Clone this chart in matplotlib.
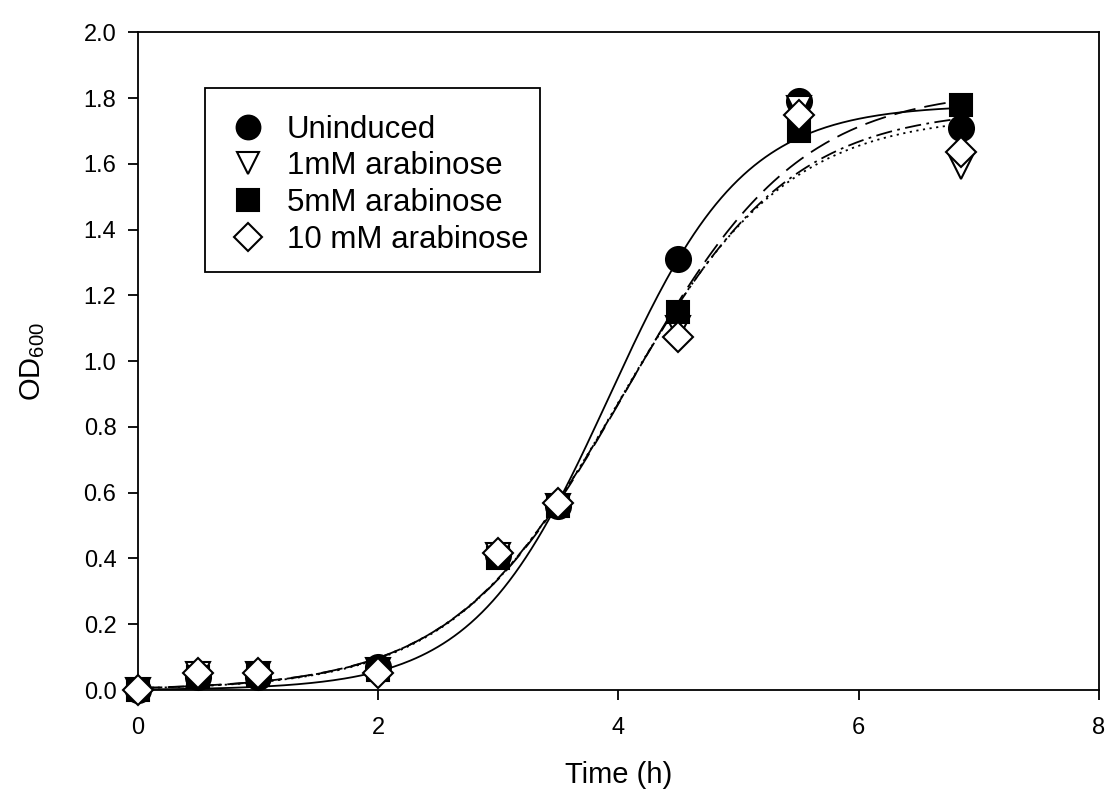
import numpy as np
import matplotlib
matplotlib.use("Agg")
import matplotlib.pyplot as plt
from matplotlib.patches import Rectangle

plt.rcParams['font.family'] = ['Liberation Sans', 'DejaVu Sans']
plt.rcParams['mathtext.fontset'] = 'custom'
plt.rcParams['mathtext.rm'] = 'Liberation Sans'

# Data
time_h = [0, 0.5, 1, 2, 3, 3.5, 4.5, 5.5, 6.85]
uninduced = [0.0, 0.04, 0.04, 0.07, 0.41, 0.56, 1.31, 1.79, 1.71]
ara_1mM = [0.0, 0.05, 0.05, 0.06, 0.41, 0.56, 1.10, 1.77, 1.59]
ara_5mM = [0.0, 0.04, 0.045, 0.06, 0.40, 0.56, 1.15, 1.70, 1.78]
ara_10mM = [0.0, 0.052, 0.052, 0.052, 0.416, 0.568, 1.073, 1.75, 1.635]

labels = ["Uninduced", "1mM arabinose", "5mM arabinose", "10 mM arabinose"]

# Fitted 3-parameter sigmoid parameters (a, x0, b) per series
fit_a = [1.78, 1.75, 1.83, 1.77]
fit_x0 = [3.92, 4.00, 4.07, 4.02]
fit_b = [0.5625, 0.70, 0.72, 0.71]

series = [uninduced, ara_1mM, ara_5mM, ara_10mM]
markers = ['o', 'v', 's', 'D']
msizes = [18, 17, 16, 15]
faces = ['black', 'white', 'black', 'white']
linestyles = ['-', (0, (1.2, 2.5)), (0, (12, 5)), (0, (9, 3, 1.5, 3))]

fig = plt.figure(figsize=(11.10, 8.08), dpi=100)
ax = fig.add_axes([0.1243, 0.146, 0.8657, 0.814])

xs = np.linspace(0, time_h[-1], 300)
for a, x0, b, ls in zip(fit_a, fit_x0, fit_b, linestyles):
    ax.plot(xs, a / (1 + np.exp(-(xs - x0) / b)), color='black', lw=1.3, ls=ls, zorder=2)

for ys, m, ms, fc, lab in zip(series, markers, msizes, faces, labels):
    ax.plot(time_h, ys, ls='none', marker=m, ms=ms, mfc=fc, mec='black', mew=1.5,
            label=lab, zorder=3, clip_on=False)

ax.set_xlim(0, 8)
ax.set_ylim(0, 2.0)
ax.set_xticks([0, 2, 4, 6, 8])
ax.set_yticks(np.arange(0, 2.01, 0.2))
ax.set_yticklabels([f"{v:.1f}" for v in np.arange(0, 2.01, 0.2)])
ax.tick_params(direction='out', length=7.5, width=1.3, labelsize=17)
ax.tick_params(axis='x', pad=12)
ax.tick_params(axis='y', pad=8)
for sp in ax.spines.values():
    sp.set_linewidth(1.3)

ax.set_xlabel("Time (h)", fontsize=21, labelpad=16)
ax.set_ylabel(r"OD$_{\mathregular{600}}$", fontsize=21, labelpad=26)

# legend frame box
ax.add_patch(Rectangle((0.0697, 0.6353), 0.3486, 0.2796, transform=ax.transAxes,
                       facecolor='white', edgecolor='black', lw=1.3, zorder=4))
leg = ax.legend(loc='upper left', bbox_to_anchor=(0.0905, 0.8745), borderaxespad=0,
                borderpad=0, frameon=False, fontsize=22.5, handletextpad=0.48,
                labelspacing=0.21, handlelength=1.5, markerscale=0.95)
leg.set_zorder(5)

fig.savefig("out.png", dpi=100)
